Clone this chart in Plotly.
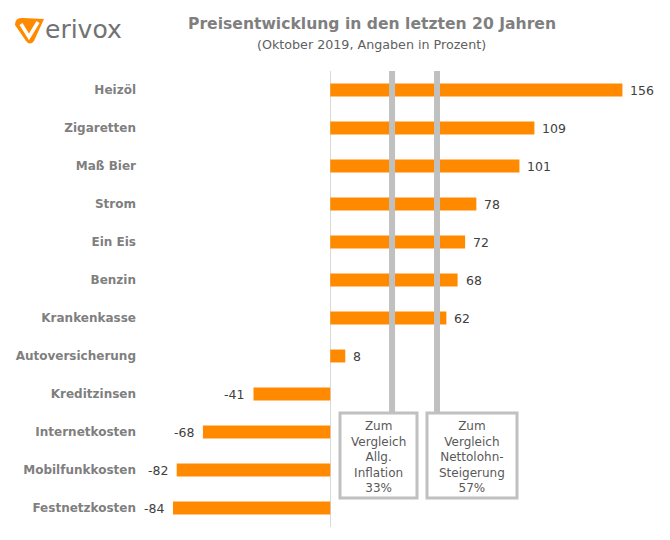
import plotly.graph_objects as go

categories = ["Heizöl", "Zigaretten", "Maß Bier", "Strom", "Ein Eis", "Benzin",
              "Krankenkasse", "Autoversicherung", "Kreditzinsen", "Internetkosten",
              "Mobilfunkkosten", "Festnetzkosten"]
values = [156, 109, 101, 78, 72, 68, 62, 8, -41, -68, -82, -84]
ref_values = [33, 57]
ref_texts = ["Zum<br>Vergleich<br>Allg.<br>Inflation<br>33%",
             "Zum<br>Vergleich<br>Nettolohn-<br>Steigerung<br>57%"]

W, H = 670, 540
OFF = 8  # page body margin offset
# plot area in screen pixels
SX0, SX1, SY0, SY1 = 143, 658, 71, 527
L, R = SX0 - OFF, W - (SX1 - OFF)
T, B = SY0 - OFF, H - (SY1 - OFF)
PW, PH = SX1 - SX0, SY1 - SY0

def px(x):
    return (x - SX0) / PW

def py(y):
    return (SY1 - y) / PH

FONT = "DejaVu Sans"
ORANGE = "#ff8a00"
GREY = "#c0c0c0"

fig = go.Figure()
fig.add_trace(go.Bar(
    x=values, y=categories, orientation="h",
    marker=dict(color=ORANGE, line=dict(width=0)),
    hoverinfo="skip",
))

annotations = []
for c, v in zip(categories, values):
    annotations.append(dict(
        x=v, y=c, xref="x", yref="y", text=str(v), showarrow=False,
        xanchor="left" if v >= 0 else "right", xshift=6 if v >= 0 else -7,
        font=dict(family=FONT, size=12.5, color="#404040"),
    ))

shapes = []
box_x = [(340, 417), (427, 517)]
box_top, box_bot = 413, 498
for rv, (x0, x1), txt in zip(ref_values, box_x, ref_texts):
    shapes.append(dict(type="line", xref="x", yref="paper", x0=rv, x1=rv,
                       y0=py(box_top), y1=1, line=dict(color=GREY, width=6),
                       layer="above"))
    shapes.append(dict(type="rect", xref="paper", yref="paper",
                       x0=px(x0), x1=px(x1), y0=py(box_bot), y1=py(box_top),
                       line=dict(color=GREY, width=3), fillcolor="white",
                       layer="above"))
    annotations.append(dict(
        x=px((x0 + x1) / 2), y=py((box_top + box_bot) / 2 + 1),
        xref="paper", yref="paper", text=txt, showarrow=False,
        xanchor="center", yanchor="middle", align="center",
        font=dict(family=FONT, size=12, color="#595959"),
    ))

# Title and subtitle
annotations.append(dict(
    x=px(372), y=py(24), xref="paper", yref="paper",
    text="<b>Preisentwicklung in den letzten 20 Jahren</b>", showarrow=False,
    xanchor="center", yanchor="middle",
    font=dict(family=FONT, size=15.6, color="#7f7f7f"),
))
annotations.append(dict(
    x=px(371), y=py(44), xref="paper", yref="paper",
    text="(Oktober 2019, Angaben in Prozent)", showarrow=False,
    xanchor="center", yanchor="middle",
    font=dict(family=FONT, size=12.7, color="#606060"),
))

# Logo
def P(x, y):
    return f"{px(x)},{py(y)}"
path = ("M " + P(15, 25) + " Q " + P(15, 17) + " " + P(23, 18) +
        " L " + P(44, 19) + " L " + P(34, 41) + " Q " + P(30, 46) + " " + P(26, 41) + " Z")
shapes.append(dict(type="path", xref="paper", yref="paper", path=path,
                   fillcolor=ORANGE, line=dict(width=0), layer="above"))
vpath = "M " + P(21, 24) + " L " + P(29, 37) + " L " + P(38, 22)
shapes.append(dict(type="path", xref="paper", yref="paper", path=vpath,
                   line=dict(color="white", width=3.5), layer="above"))
annotations.append(dict(
    x=px(43), y=py(29), xref="paper", yref="paper", text="erivox",
    showarrow=False, xanchor="left", yanchor="middle",
    font=dict(family=FONT, size=25, color="#727272"),
))

fig.update_layout(
    width=W, height=H,
    margin=dict(l=L, r=R, t=T, b=B, autoexpand=False),
    paper_bgcolor="white", plot_bgcolor="white",
    bargap=0.66, showlegend=False,
    xaxis=dict(range=[-100, 175], showgrid=False, showticklabels=False,
               zeroline=True, zerolinecolor="#d9d9d9", zerolinewidth=1,
               fixedrange=True),
    yaxis=dict(autorange="reversed", showgrid=False, ticks="",
               ticklabelstandoff=6,
               tickfont=dict(family=FONT, size=12, color="#7f7f7f"),
               tickvals=categories,
               ticktext=[f"<b>{c}</b>" for c in categories],
               fixedrange=True),
    shapes=shapes, annotations=annotations,
)

fig.write_html("out.html")
